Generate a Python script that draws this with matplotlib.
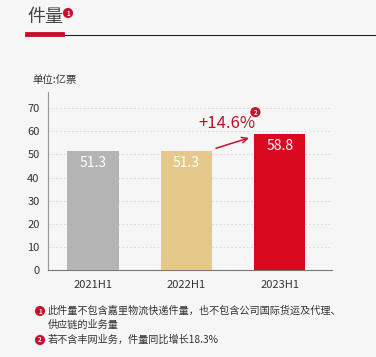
import numpy as np
import matplotlib
matplotlib.use('Agg')
import matplotlib.pyplot as plt
from matplotlib.lines import Line2D
from matplotlib import font_manager

plt.rcParams['font.family'] = ['Noto Sans CJK SC', 'DejaVu Sans']

# narrow face for the numbers, if it is there
names = {f.name for f in font_manager.fontManager.ttflist}
num_font = ['Liberation Sans Narrow', 'Noto Sans CJK SC'] if 'Liberation Sans Narrow' in names else ['Noto Sans CJK SC']

#------------ data ------------
periods = ['2021H1', '2022H1', '2023H1']
volume = [51.3, 51.3, 58.8]          # 亿票
bar_colors = ['#b4b4b4', '#e4c98a', '#d9091f']
growth_label = '+14.6%'
title = '件量'
unit_label = '单位:亿票'
notes = ['此件量不包含嘉里物流快递件量，也不包含公司国际货运及代理、',
         '供应链的业务量',
         '若不含丰网业务，件量同比增长18.3%']

W, H = 376, 357
bg = '#f6f6f6'
red = '#c8102e'

fig = plt.figure(figsize=(W / 100, H / 100), dpi=100, facecolor=bg)

def fx(px):
    return px / W

def fy(py):
    return 1 - py / H

def badge(x0, y0, s, transform):
    fig.text(x0, y0, s, fontsize=4.5, color='white', va='center', ha='center',
             fontweight='bold', transform=transform,
             bbox=dict(boxstyle='circle,pad=0.25', fc=red, ec='none'))

#------------ title block ------------
fig.text(fx(27), fy(17), title, fontsize=13, color='#444444', va='center', ha='left')
badge(fx(68), fy(13), '1', fig.transFigure)
fig.add_artist(Line2D([fx(62), fx(376)], [fy(35), fy(35)], color='#222222', lw=0.8))
fig.add_artist(Line2D([fx(27), fx(62)], [fy(34), fy(34)], color=red, lw=3.5))
fig.text(fx(32), fy(80), unit_label, fontsize=7.5, color='#333333', va='center', ha='left')

#------------ bars ------------
ax = fig.add_axes([fx(48), fy(270), fx(332) - fx(48), fy(92) - fy(270)])
ax.set_facecolor(bg)
x = np.arange(len(periods))
bars = ax.bar(x, volume, width=0.55, color=bar_colors, zorder=3)
ax.set_xlim(-0.48, 2.56)
ax.set_ylim(0, 77)
ax.set_yticks(np.arange(0, 71, 10))
ax.yaxis.grid(True, linestyle=(0, (2, 2)), color='#dcdcdc', lw=0.7, zorder=0)
ax.set_xticks(x)
ax.set_xticklabels(periods, fontsize=8, color='#333333', family=num_font)
for lab in ax.get_yticklabels():
    lab.set_family(num_font)
ax.tick_params(axis='y', labelsize=8, colors='#333333', length=0, pad=6)
ax.tick_params(axis='x', length=0, pad=7)
for s in ['top', 'right']:
    ax.spines[s].set_visible(False)
ax.spines['left'].set_color('#999999')
ax.spines['left'].set_linewidth(0.8)
ax.spines['bottom'].set_color('#777777')
ax.spines['bottom'].set_linewidth(0.8)

for b, v in zip(bars, volume):
    ax.text(b.get_x() + b.get_width() / 2, v - 5.2, f'{v}', ha='center', va='center',
            color='white', fontsize=10, family=num_font, zorder=4)

# growth arrow
ax.annotate('', xy=(1.7, 57.5), xytext=(1.29, 52.3),
            arrowprops=dict(arrowstyle='->', color=red, lw=1.1, mutation_scale=10))
ax.text(1.44, 63.5, growth_label, ha='center', va='center', color='#b5162b',
        fontsize=12, family=num_font)
badge(1.74, 68.3, '2', ax.transData)

#------------ footnotes ------------
note_y = [311, 325, 340]
for t, py in zip(notes, note_y):
    fig.text(fx(48), fy(py), t, fontsize=7.3, color='#333333', va='center', ha='left')
badge(fx(40), fy(311), '1', fig.transFigure)
badge(fx(40), fy(340), '2', fig.transFigure)

fig.savefig('out.png', dpi=100, facecolor=bg)
